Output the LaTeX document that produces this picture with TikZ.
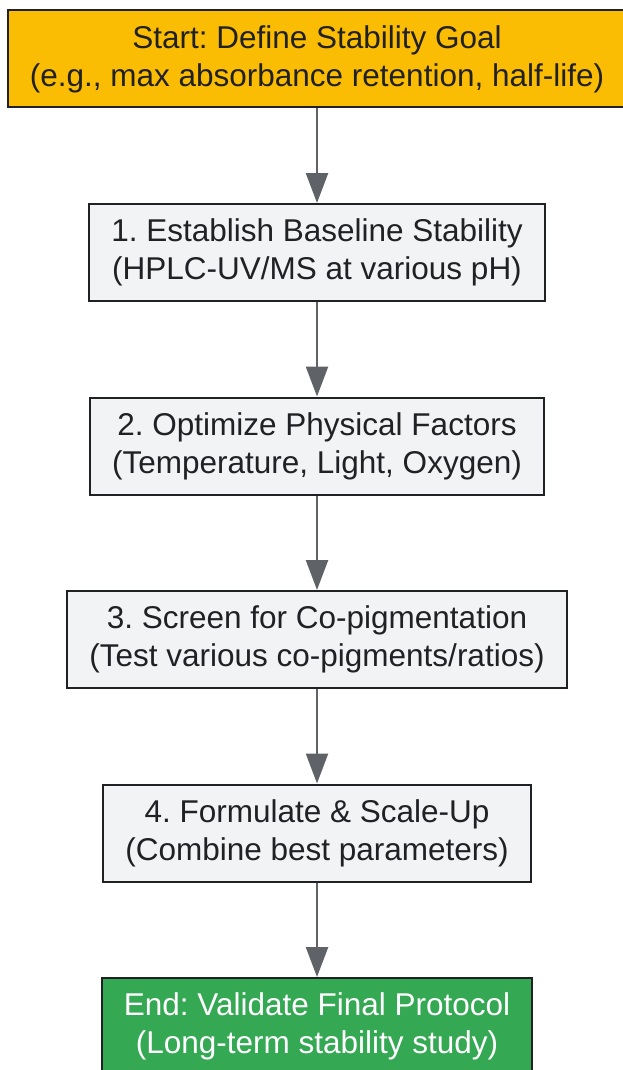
\documentclass[tikz,border=0pt]{standalone}
\usepackage{fontspec}
\setmainfont{Liberation Sans}
\usetikzlibrary{positioning,arrows.meta}
\definecolor{goalorange}{HTML}{FBBC04}
\definecolor{stepgray}{HTML}{F1F3F4}
\definecolor{endgreen}{HTML}{34A853}
\definecolor{linegray}{HTML}{5F6368}
\definecolor{inkdark}{HTML}{202124}
\frenchspacing
\begin{document}
\begin{tikzpicture}[x=1pt,y=1pt,>={Triangle[length=30pt,width=22pt]},node distance=94.5pt,
	every node/.style={shape=rectangle,draw=inkdark,line width=2pt,align=center,
	text=inkdark,font=\fontsize{31.5}{38}\selectfont,minimum height=97pt,inner xsep=22pt},
	stepbox/.style={fill=stepgray},
	link/.style={->,draw=linegray,line width=2.5pt}]
	\useasboundingbox (0,0) rectangle (622,-1070);
	% create the nodes.
	\node (start) [fill=goalorange] at (317,-59) {Start: Define Stability Goal\\(e.g., max absorbance retention, half-life)};
	\node (baseline) [stepbox,below=of start] {1. Establish Baseline Stability\\(HPLC-UV/MS at various pH)};
	\node (physical) [stepbox,below=of baseline] {2. Optimize Physical Factors\\(Temperature, Light, Oxygen)};
	\node (copig) [stepbox,below=of physical] {3. Screen for Co-pigmentation\\(Test various co-pigments/ratios)};
	\node (scaleup) [stepbox,below=of copig] {4. Formulate \& Scale-Up\\(Combine best parameters)};
	\node (finish) [fill=endgreen,text=white,below=of scaleup] {End: Validate Final Protocol\\(Long-term stability study)};

	% connect the nodes
	\draw[link] (start) -- (baseline);
	\draw[link] (baseline) -- (physical);
	\draw[link] (physical) -- (copig);
	\draw[link] (copig) -- (scaleup);
	\draw[link] (scaleup) -- (finish);
\end{tikzpicture}
\end{document}
